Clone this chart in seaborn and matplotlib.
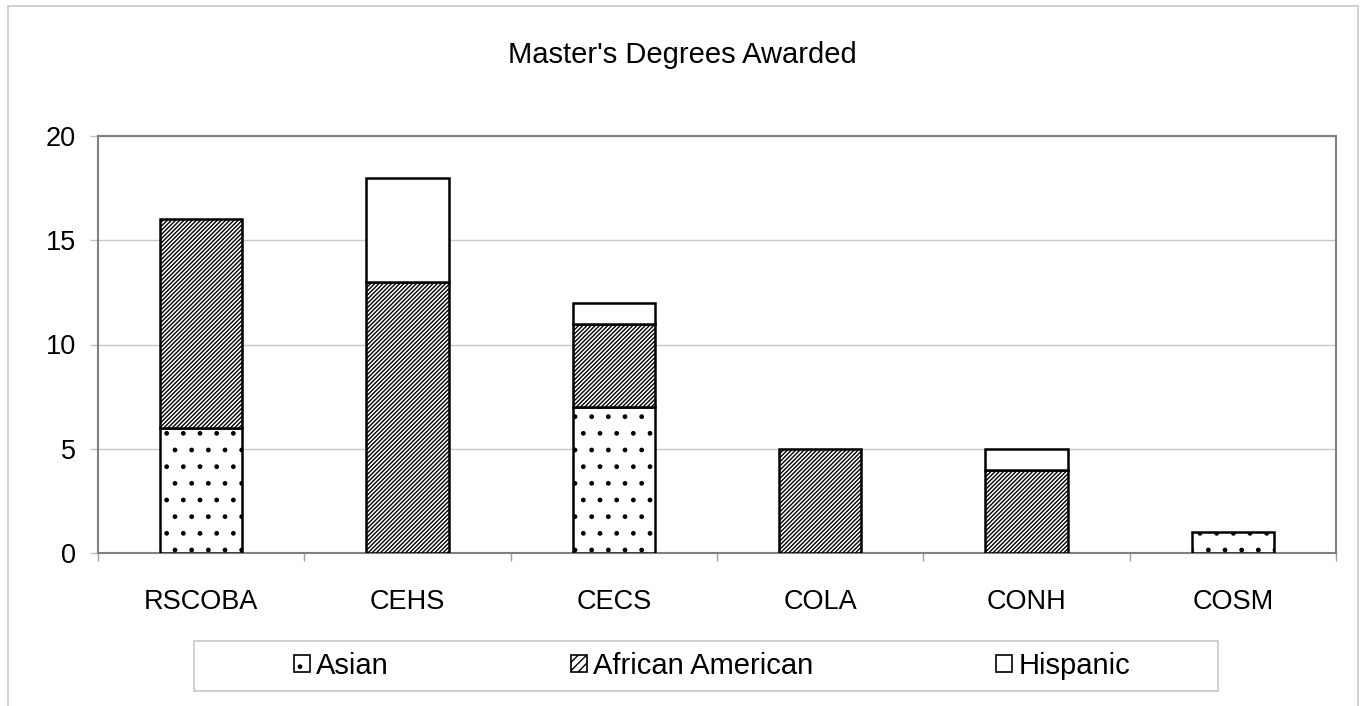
import matplotlib
matplotlib.use("Agg")
import matplotlib.pyplot as plt
import seaborn as sns
import numpy as np
from matplotlib.patches import Patch, Rectangle

# ── Data ──────────────────────────────────────────────────────────────────────
colleges = ["RSCOBA", "CEHS", "CECS", "COLA", "CONH", "COSM"]
asian = [6, 0, 7, 0, 0, 1]
african_american = [10, 13, 4, 5, 4, 0]
hispanic = [0, 5, 1, 0, 1, 0]

series_names = ["Asian", "African American", "Hispanic"]
series_values = [asian, african_american, hispanic]
series_hatch = [".", "////////", ""]

# ── Style ─────────────────────────────────────────────────────────────────────
sns.set_style("white")
plt.rcParams["font.family"] = ["Liberation Sans", "DejaVu Sans"]
plt.rcParams["text.color"] = "black"
plt.rcParams["xtick.labelcolor"] = "black"
plt.rcParams["ytick.labelcolor"] = "black"
plt.rcParams["hatch.linewidth"] = 1.0
plt.rcParams["hatch.color"] = "black"

fig = plt.figure(figsize=(13.64, 7.06), dpi=100)
ax = fig.add_axes([98 / 1364, 1 - 553 / 706, 1238 / 1364, 417 / 706])

# ── Stacked bars ──────────────────────────────────────────────────────────────
bottom = np.zeros(len(colleges))
for name, vals, hatch in zip(series_names, series_values, series_hatch):
    sns.barplot(x=colleges, y=vals, bottom=bottom, ax=ax, color="white",
                saturation=1, edgecolor="black", linewidth=1.8, hatch=hatch,
                width=0.4, zorder=3)
    bottom = bottom + np.array(vals)

for p in ax.patches:
    if p.get_height() == 0:
        p.set_visible(False)

# ── Axes ──────────────────────────────────────────────────────────────────────
ax.set_xlim(-0.5, len(colleges) - 0.5)
ax.set_ylim(0, 20)
ax.set_yticks([0, 5, 10, 15, 20])
ax.yaxis.grid(True, color="#c8c8c8", linewidth=1)
ax.set_axisbelow(True)
for s in ax.spines.values():
    s.set_color("#808080")
    s.set_linewidth(1.5)
    s.set_visible(True)

ax.set_xticks(np.arange(-0.5, len(colleges)), minor=True)
ax.tick_params(axis="x", which="major", length=0, pad=26, labelsize=19.5,
               labelcolor="black")
ax.tick_params(axis="x", which="minor", length=6, width=1, color="#a0a0a0",
               bottom=True)
ax.tick_params(axis="y", length=6, width=1, color="#c0c0c0", pad=10,
               labelsize=19.5, left=True, labelcolor="black")
ax.set_xlabel("")
ax.set_ylabel("")

# ── Title, frame, legend ──────────────────────────────────────────────────────
fig.text(0.5, 1 - 55 / 706, "Master's Degrees Awarded", ha="center",
         va="center", fontsize=21, color="black")

fig.patches.append(Rectangle((8 / 1364, -0.05), 1350 / 1364, 1.05 - 6 / 706,
                             transform=fig.transFigure, fill=False,
                             edgecolor="#c8c8c8", linewidth=1.2))
fig.patches.append(Rectangle((194 / 1364, 1 - 691 / 706), 1024 / 1364,
                             50 / 706, transform=fig.transFigure, fill=False,
                             edgecolor="#c8c8c8", linewidth=1.2))

handles = [Patch(facecolor="white", edgecolor="black", hatch=".", linewidth=1.2),
           Patch(facecolor="white", edgecolor="black", hatch="////", linewidth=1.2),
           Patch(facecolor="white", edgecolor="black", hatch="", linewidth=1.2)]
leg = fig.legend(handles, series_names, loc="center",
                 bbox_to_anchor=(712 / 1364, 1 - 666 / 706), ncol=3,
                 frameon=False, fontsize=21, handlelength=0.55,
                 handleheight=0.55, handletextpad=0.2, columnspacing=6.27)
for t in leg.get_texts():
    t.set_color("black")

plt.savefig("out.png", dpi=100)
